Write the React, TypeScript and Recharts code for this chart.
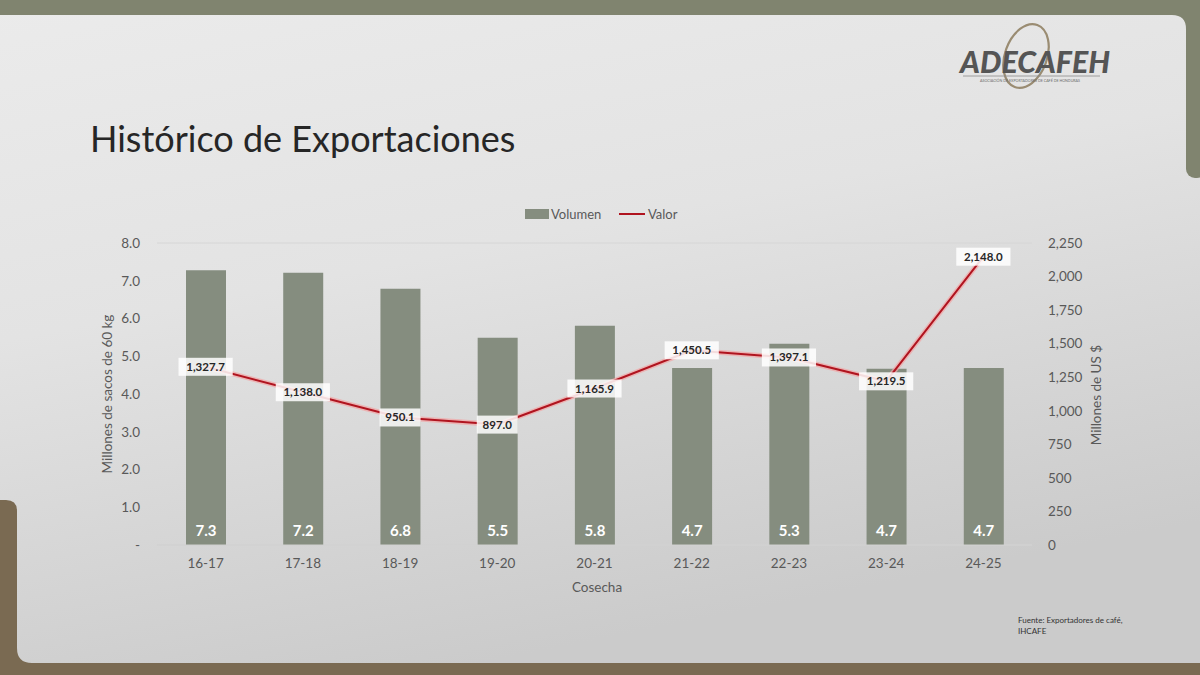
import { Bar, CartesianGrid, ComposedChart, LabelList, Line, XAxis, YAxis } from 'recharts';

const seasons = ['16-17', '17-18', '18-19', '19-20', '20-21', '21-22', '22-23', '23-24', '24-25'];
const volumen = [7.28, 7.21, 6.79, 5.49, 5.81, 4.69, 5.33, 4.67, 4.69];
const valor = [1327.7, 1138.0, 950.1, 897.0, 1165.9, 1450.5, 1397.1, 1219.5, 2148.0];
const leftTicks = [0, 1, 2, 3, 4, 5, 6, 7, 8];
const rightTicks = [0, 250, 500, 750, 1000, 1250, 1500, 1750, 2000, 2250];

const data = seasons.map((s, i) => ({ season: s, volumen: volumen[i], valor: valor[i] }));

const FONT = 'Lato, "Open Sans", sans-serif';
const BAR = '#858d7f';
const RED = '#b0141f';
const TICK = '#595959';

const fmtUsd = (v: number) => v.toLocaleString('en-US', { minimumFractionDigits: 1, maximumFractionDigits: 1 });

function ValorLabel(props: any) {
  const { x, y, value } = props;
  const text = fmtUsd(Number(value));
  const w = text.length * 6.6 + 8;
  return <g>
    <rect x={x - w / 2} y={y - 9} width={w} height={18} fill="#ffffff" fillOpacity={0.85} />
    <text x={x} y={y + 4} textAnchor="middle" fontSize={11.5} fontWeight={700} fill="#262626" fontFamily={FONT}>{text}</text>
  </g>;
}

function VolLabel(props: any) {
  const { x, y, width, height, value } = props;
  return <text x={x + width / 2} y={y + height - 9} textAnchor="middle" fontSize={15} fontWeight={700} fill="#ffffff" fontFamily={FONT}>
    {Number(value).toFixed(1)}
  </text>;
}

function Backdrop() {
  return <svg width={1200} height={675} style={{ position: 'absolute', left: 0, top: 0 }}>
    <defs>
      <linearGradient id="panel" x1="0" y1="0" x2="0.35" y2="1">
        <stop offset="0" stopColor="#ebebeb" />
        <stop offset="0.45" stopColor="#e3e3e3" />
        <stop offset="1" stopColor="#cbcbcb" />
      </linearGradient>
    </defs>
    <rect x={0} y={0} width={1200} height={675} fill="url(#panel)" />
    <rect x={0} y={0} width={1200} height={15} fill="#80846f" />
    <path d="M1172,15 L1186,15 L1186,29 Q1186,15 1172,15 Z" fill="#80846f" />
    <rect x={1186} y={0} width={20} height={178} rx={9} fill="#80846f" />
    <rect x={1186} y={0} width={14} height={20} fill="#80846f" />
    <path d="M0,500 L6,500 Q17,500 17,511 L17,648 Q17,663 32,663 L0,663 Z" fill="#7a6a52" />
    <rect x={0} y={663} width={1200} height={12} fill="#7a6a52" />
  </svg>;
}

function Decorations() {
  return <svg width={1200} height={675} style={{ position: 'absolute', left: 0, top: 0, pointerEvents: 'none' }}>
    {/* logo */}
    <ellipse cx={1026} cy={56} rx={21} ry={33} fill="none" stroke="#9a8c72" strokeWidth={2.2} transform="rotate(20 1026 56)" />
    <text x={960} y={73} fontSize={31} fontWeight={900} fontStyle="italic" fill="#555555" fontFamily={FONT} textLength={150} lengthAdjust="spacingAndGlyphs">ADECAFEH</text>
    <line x1={963} y1={76} x2={1100} y2={76} stroke="#8a8a8a" strokeWidth={0.8} />
    <text x={980} y={82} fontSize={3.6} fill="#6a6a6a" fontFamily={FONT} textLength={100} lengthAdjust="spacingAndGlyphs">ASOCIACIÓN DE EXPORTADORES DE CAFÉ DE HONDURAS</text>
    {/* title */}
    <text x={90} y={152} fontSize={36} fontWeight={400} fill="#262626" fontFamily={FONT}>Histórico de Exportaciones</text>
    {/* legend */}
    <rect x={525} y={209} width={24} height={10} fill={BAR} />
    <text x={551} y={219} fontSize={13} fill={TICK} fontFamily={FONT}>Volumen</text>
    <line x1={619} y1={214} x2={645} y2={214} stroke={RED} strokeWidth={2} />
    <text x={648} y={219} fontSize={13} fill={TICK} fontFamily={FONT}>Valor</text>
    {/* axis titles */}
    <text x={112} y={394} fontSize={13.5} fill={TICK} fontFamily={FONT} textAnchor="middle" transform="rotate(-90 112 394)">Millones de sacos de 60 kg</text>
    <text x={1101} y={395} fontSize={13.5} fill={TICK} fontFamily={FONT} textAnchor="middle" transform="rotate(-90 1101 395)">Millones de US $</text>
    <text x={597} y={592} fontSize={13.5} fill={TICK} fontFamily={FONT} textAnchor="middle">Cosecha</text>
    {/* source */}
    <text x={1018} y={623} fontSize={8} fill="#333" fontFamily={FONT}>Fuente: Exportadores de café,</text>
    <text x={1018} y={634} fontSize={8} fill="#333" fontFamily={FONT}>IHCAFE</text>
  </svg>;
}

export default function App() {
  return <div style={{ position: 'absolute', left: 0, top: 0, width: 1200, height: 675, overflow: 'hidden', fontFamily: FONT }}>
    <Backdrop />
    <div style={{ position: 'absolute', left: 0, top: 0 }}>
      <ComposedChart width={1200} height={675} data={data} barSize={40}
        margin={{ top: 243, right: 98, bottom: 100, left: 97 }}>
        <CartesianGrid vertical={false} stroke="#d6d6d6" />
        <XAxis dataKey="season" axisLine={{ stroke: '#cfcfcf' }} tickLine={false} tickSize={0} tickMargin={13}
          height={30} tick={{ fill: TICK, fontSize: 13.5, fontFamily: FONT }} />
        <YAxis yAxisId="left" domain={[0, 8]} ticks={leftTicks} axisLine={false} tickLine={false}
          tickSize={0} tickMargin={17} width={60} interval={0}
          tick={{ fill: TICK, fontSize: 13.5, fontFamily: FONT }}
          tickFormatter={(v: number) => (v === 0 ? '-' : v.toFixed(1))} />
        <YAxis yAxisId="right" orientation="right" domain={[0, 2250]} ticks={rightTicks} axisLine={false}
          tickLine={false} tickSize={0} tickMargin={16} width={70} interval={0}
          tick={{ fill: TICK, fontSize: 13.5, fontFamily: FONT }}
          tickFormatter={(v: number) => v.toLocaleString('en-US')} />
        <Bar yAxisId="left" dataKey="volumen" fill={BAR} isAnimationActive={false}>
          <LabelList dataKey="volumen" content={VolLabel} />
        </Bar>
        <Line yAxisId="right" dataKey="valor" type="linear" stroke="#f2a4a4" strokeOpacity={0.7} strokeWidth={5}
          dot={false} activeDot={false} isAnimationActive={false} legendType="none" />
        <Line yAxisId="right" dataKey="valor" type="linear" stroke={RED} strokeWidth={2}
          dot={false} activeDot={false} isAnimationActive={false}>
          <LabelList dataKey="valor" content={ValorLabel} />
        </Line>
      </ComposedChart>
    </div>
    <Decorations />
  </div>;
}
